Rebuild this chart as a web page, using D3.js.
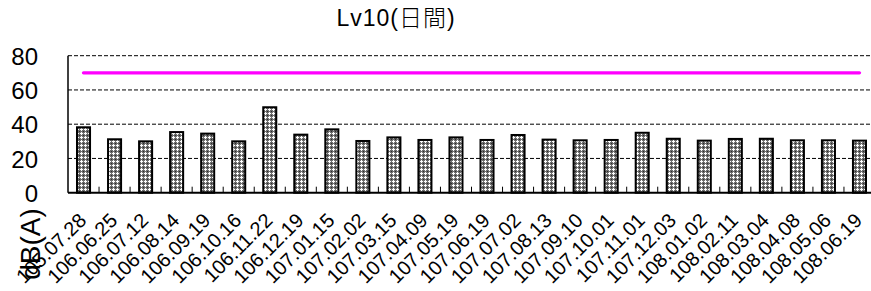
<!DOCTYPE html>
<html><head><meta charset="utf-8">
<script src="https://cdn.jsdelivr.net/npm/d3@7"></script>
<style>
html,body{margin:0;padding:0;background:#fff;}
svg{display:block;}
text{font-family:"Liberation Sans",Arial,"Noto Sans CJK TC",sans-serif;fill:#000;}
</style></head>
<body>
<script>
const title = "Lv10(日間)";
const yTitle = "dB(A)";
const categories = ["105.07.28","106.06.25","106.07.12","106.08.14","106.09.19","106.10.16","106.11.22","106.12.19","107.01.15","107.02.02","107.03.15","107.04.09","107.05.19","107.06.19","107.07.02","107.08.13","107.09.10","107.10.01","107.11.01","107.12.03","108.01.02","108.02.11","108.03.04","108.04.08","108.05.06","108.06.19"];
const values = [38.2,31.2,30.0,35.4,34.5,30.0,49.9,33.9,37.0,30.2,32.3,30.8,32.3,30.8,33.7,31.0,30.6,30.8,35.0,31.5,30.4,31.4,31.5,30.6,30.6,30.4];
const limitValues = [70,70,70,70,70,70,70,70,70,70,70,70,70,70,70,70,70,70,70,70,70,70,70,70,70,70];
const yTicks = [0,20,40,60,80];

(function(){
const W = 871, H = 291;
const pLeft = 68, pRight = 875, pTop = 55.7, pBottom = 192.7;

const svg = d3.select("body").append("svg").attr("width", W).attr("height", H);

const defs = svg.append("defs");
const pat = defs.append("pattern").attr("id","hatch").attr("patternUnits","userSpaceOnUse")
  .attr("width",4).attr("height",4);
pat.append("rect").attr("width",4).attr("height",4).attr("fill","#6e6e6e");
pat.append("rect").attr("x",1).attr("y",0).attr("width",1).attr("height",3).attr("fill","#fff");
pat.append("rect").attr("x",0).attr("y",1).attr("width",3).attr("height",1).attr("fill","#fff");
pat.append("rect").attr("x",3).attr("y",3).attr("width",1).attr("height",1).attr("fill","#2a2a2a");

const x = d3.scaleBand().domain(categories).range([pLeft, pRight]).padding(0);
const y = d3.scaleLinear().domain([0, 80]).range([pBottom, pTop]);
const bw = x.bandwidth() * 0.42;

// gridlines
svg.append("g").selectAll("line").data(yTicks.filter(d => d > 0)).join("line")
  .attr("x1", pLeft).attr("x2", pRight)
  .attr("y1", d => y(d)).attr("y2", d => y(d))
  .attr("stroke", "#000").attr("stroke-width", 1).attr("stroke-dasharray", "4,2");

// bars
svg.append("g").selectAll("rect").data(values).join("rect")
  .attr("x", (d,i) => x(categories[i]) + (x.bandwidth()-bw)/2)
  .attr("y", d => y(d))
  .attr("width", bw)
  .attr("height", d => y(0) - y(d))
  .attr("fill", "url(#hatch)")
  .attr("stroke", "#000").attr("stroke-width", 2);

// limit line
const line = d3.line().x((d,i) => x(categories[i]) + x.bandwidth()/2).y(d => y(d));
svg.append("path").datum(limitValues).attr("d", line)
  .attr("fill","none").attr("stroke","#ff00ff").attr("stroke-width",3.3).attr("stroke-linecap","round");

// axes
const yAxis = d3.axisLeft(y).tickValues(yTicks).tickSize(0).tickPadding(30);
const gy = svg.append("g").attr("transform", `translate(${pLeft},0)`).call(yAxis);
gy.select(".domain").attr("stroke","#000").attr("stroke-width",1.5).attr("d", `M0,${pTop}V${pBottom}`);
gy.selectAll("text").attr("font-size", 24).attr("fill","#000")
  .attr("font-family", '"Liberation Sans",Arial,sans-serif').attr("dy","0.36em");

const xAxis = d3.axisBottom(x).tickSize(0).tickFormat(d => d);
const gx = svg.append("g").attr("transform", `translate(0,${pBottom})`).call(xAxis);
gx.select(".domain").attr("stroke","#000").attr("stroke-width",2).attr("d", `M${pLeft},0H${pRight}`);
gx.selectAll(".tick text")
  .attr("font-size", 20).attr("font-family", '"Liberation Sans",Arial,sans-serif')
  .attr("text-anchor","end").attr("dy", null).attr("y", null)
  .attr("transform", "translate(4,29) rotate(-45)");

// inner tick marks at band boundaries
svg.append("g").selectAll("line").data(categories.slice(1)).join("line")
  .attr("x1", d => x(d)).attr("x2", d => x(d))
  .attr("y1", pBottom).attr("y2", pBottom - 6)
  .attr("stroke","#000").attr("stroke-width",1);

// titles
svg.append("text").attr("x", 396).attr("y", 26).attr("text-anchor","middle")
  .attr("font-size", 23).attr("font-family", '"Liberation Sans",Arial,"Noto Sans CJK TC",sans-serif')
  .attr("font-weight", 300).attr("letter-spacing", 1).text(title);
svg.append("text").attr("transform","translate(40,244) rotate(-90)")
  .attr("text-anchor","middle").attr("font-size", 28).text(yTitle);
})();
</script>
</body></html>
